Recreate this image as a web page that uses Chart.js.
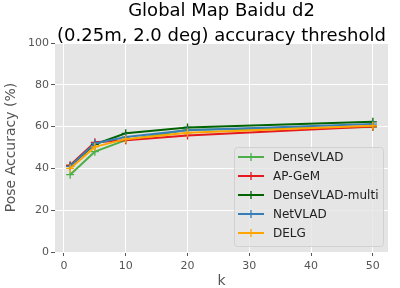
<!DOCTYPE html>
<html>
<head>
<meta charset="utf-8">
<script src="https://cdn.jsdelivr.net/npm/chart.js@4"></script>
<style>
  html, body { margin: 0; padding: 0; background: #fff; }
  #wrap { width: 400px; height: 288px; }
</style>
</head>
<body>
<div id="wrap"><canvas id="myChart"></canvas></div>
<script>
// values
const kValues = [1, 5, 10, 20, 50];
const denseVLAD = [37, 48, 53.5, 58.5, 59.8];
const apGeM = [41.5, 52.5, 53.5, 55.8, 60];
const denseVLADMulti = [41, 51.5, 56.8, 59.6, 62.3];
const netVLAD = [41, 52, 55, 58.2, 61.2];
const delg = [40, 50.3, 54, 57, 60.4];

const seriesNames = ["DenseVLAD", "AP-GeM", "DenseVLAD-multi", "NetVLAD", "DELG"];
const seriesColors = ["#4daf4a", "#e41a1c", "#006400", "#377eb8", "#ffa500"];
const xTicks = [0, 10, 20, 30, 40, 50];
const yTicks = [0, 20, 40, 60, 80, 100];

const FONT = "'DejaVu Sans', sans-serif";
Chart.defaults.font.family = FONT;

const allSeries = [denseVLAD, apGeM, denseVLADMulti, netVLAD, delg];
const datasets = allSeries.map((vals, i) => ({
	label: seriesNames[i],
	data: vals.map((v, j) => ({x: kValues[j], y: v})),
	borderColor: seriesColors[i],
	backgroundColor: seriesColors[i],
	borderWidth: 2,
	pointStyle: "cross",
	pointRadius: 4,
	pointBorderWidth: 1.3,
	order: allSeries.length - 1 - i,   // later series on top, like matplotlib
	tension: 0
}));

// grey panel behind the plot
const panelBg = {
	id: "panelBg",
	beforeDraw(chart) {
		const {ctx, chartArea: a} = chart;
		ctx.save();
		ctx.fillStyle = "#e5e5e5";
		ctx.fillRect(a.left, a.top, a.right - a.left, a.bottom - a.top);
		ctx.restore();
	}
};

// matplotlib-like legend in the lower right corner
const mplLegend = {
	id: "mplLegend",
	afterDatasetsDraw(chart) {
		const {ctx, chartArea: a} = chart;
		const x0 = a.right - 5 - 149, y0 = a.bottom - 6 - 99;
		ctx.save();
		ctx.fillStyle = "rgba(229,229,229,0.8)";
		ctx.strokeStyle = "rgba(204,204,204,0.8)";
		ctx.lineWidth = 1;
		ctx.beginPath();
		ctx.roundRect(x0 + 0.5, y0 + 0.5, 149, 99, 3);
		ctx.fill();
		ctx.stroke();
		ctx.font = "12px " + FONT;
		ctx.textBaseline = "middle";
		chart.data.datasets.forEach((ds, i) => {
			const y = y0 + 10 + i * 19;
			ctx.strokeStyle = ds.borderColor;
			ctx.lineWidth = 2;
			ctx.beginPath();
			ctx.moveTo(x0 + 4, y);
			ctx.lineTo(x0 + 30, y);
			ctx.stroke();
			ctx.lineWidth = 1.3;
			ctx.beginPath();
			ctx.moveTo(x0 + 17, y - 4);
			ctx.lineTo(x0 + 17, y + 4);
			ctx.stroke();
			ctx.fillStyle = "#222";
			ctx.fillText(ds.label, x0 + 39, y + 0.5);
		});
		ctx.restore();
	}
};

new Chart(document.getElementById("myChart"), {
	type: "line",
	data: {datasets},
	plugins: [panelBg, mplLegend],
	options: {
		responsive: true,
		maintainAspectRatio: false,
		animation: false,
		layout: {padding: {left: 0, right: 12, top: 0, bottom: 0}},
		plugins: {
			legend: {display: false},
			tooltip: {enabled: false},
			title: {
				display: true,
				fullSize: false,
				text: ["Global Map Baidu d2", "(0.25m, 2.0 deg) accuracy threshold"],
				color: "#000",
				font: {size: 18, weight: "normal", lineHeight: "24.5px"},
				padding: {top: -0.75, bottom: -5.25}
			}
		},
		scales: {
			x: {
				type: "linear",
				min: -1.45,
				max: 52.45,
				afterBuildTicks: s => { s.ticks = xTicks.map(v => ({value: v})); },
				afterFit: s => { s.height = 36; },
				border: {display: false},
				grid: {color: "#fff", lineWidth: 1, tickColor: "#555", tickLength: 4},
				ticks: {color: "#555", font: {size: 11}, padding: 4, maxRotation: 0},
				title: {display: true, text: "k", color: "#555", font: {size: 14, lineHeight: 1}, padding: 0}
			},
			y: {
				min: 0,
				max: 100,
				afterBuildTicks: s => { s.ticks = yTicks.map(v => ({value: v})); },
				afterFit: s => { s.width = 55; },
				border: {display: false},
				grid: {color: "#fff", lineWidth: 1, tickColor: "#555", tickLength: 4},
				ticks: {color: "#555", font: {size: 11}, padding: 2},
				title: {display: true, text: "Pose Accuracy (%)", color: "#555", font: {size: 14, lineHeight: 1}, padding: 4.5}
			}
		}
	}
});
</script>
</body>
</html>
